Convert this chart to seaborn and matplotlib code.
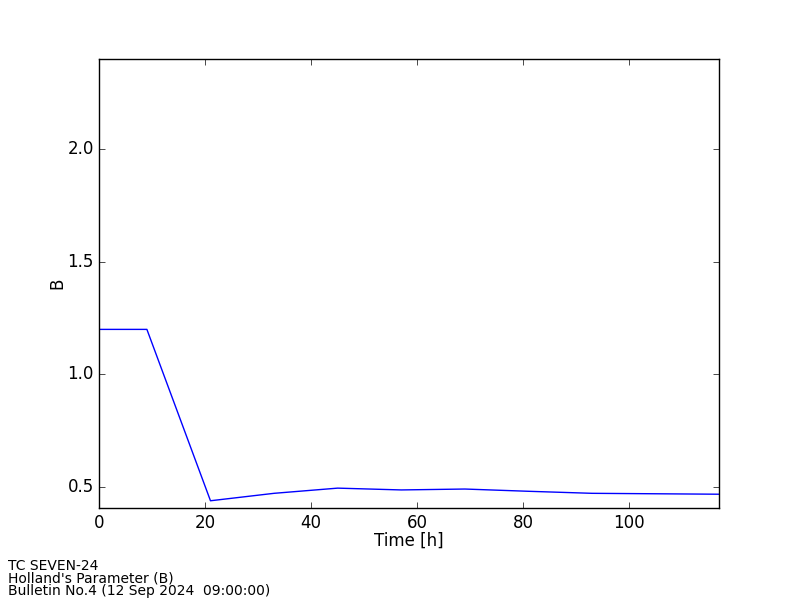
import matplotlib
matplotlib.use("Agg")
import matplotlib.pyplot as plt
import pandas as pd
import seaborn as sns

# forecast hours and Holland B values
hours = [0, 9, 21, 33, 45, 57, 69, 81, 93, 105, 117]
b_values = [1.2, 1.2, 0.44, 0.473, 0.496, 0.488, 0.492, 0.482, 0.473, 0.471, 0.469]

info_lines = [
    "TC SEVEN-24",
    "Holland's Parameter (B)",
    "Bulletin No.4 (12 Sep 2024  09:00:00)",
]

plt.style.use("classic")
plt.rcParams["font.family"] = ["DejaVu Sans"]

df = pd.DataFrame({"Time [h]": hours, "B": b_values})

fig, ax = plt.subplots(figsize=(8, 6), dpi=100)
fig.patch.set_facecolor("white")
fig.subplots_adjust(left=0.124, right=0.899, bottom=0.153, top=0.902)

sns.lineplot(data=df, x="Time [h]", y="B", color="blue", linewidth=1, ax=ax)

ax.set_xlim(0, 117)
ax.set_ylim(0.407, 2.4)
ax.set_yticks([0.5, 1.0, 1.5, 2.0])
ax.set_xticks([0, 20, 40, 60, 80, 100])
ax.set_xlabel("Time [h]", fontsize=12, labelpad=0)
ax.set_ylabel("B", fontsize=12, labelpad=1)
ax.tick_params(labelsize=12)

fig.text(0.01, 0.004, "\n".join(info_lines), fontsize=10, ha="left", va="bottom",
         linespacing=0.86)

fig.savefig("out.png", dpi=100, facecolor="white")
